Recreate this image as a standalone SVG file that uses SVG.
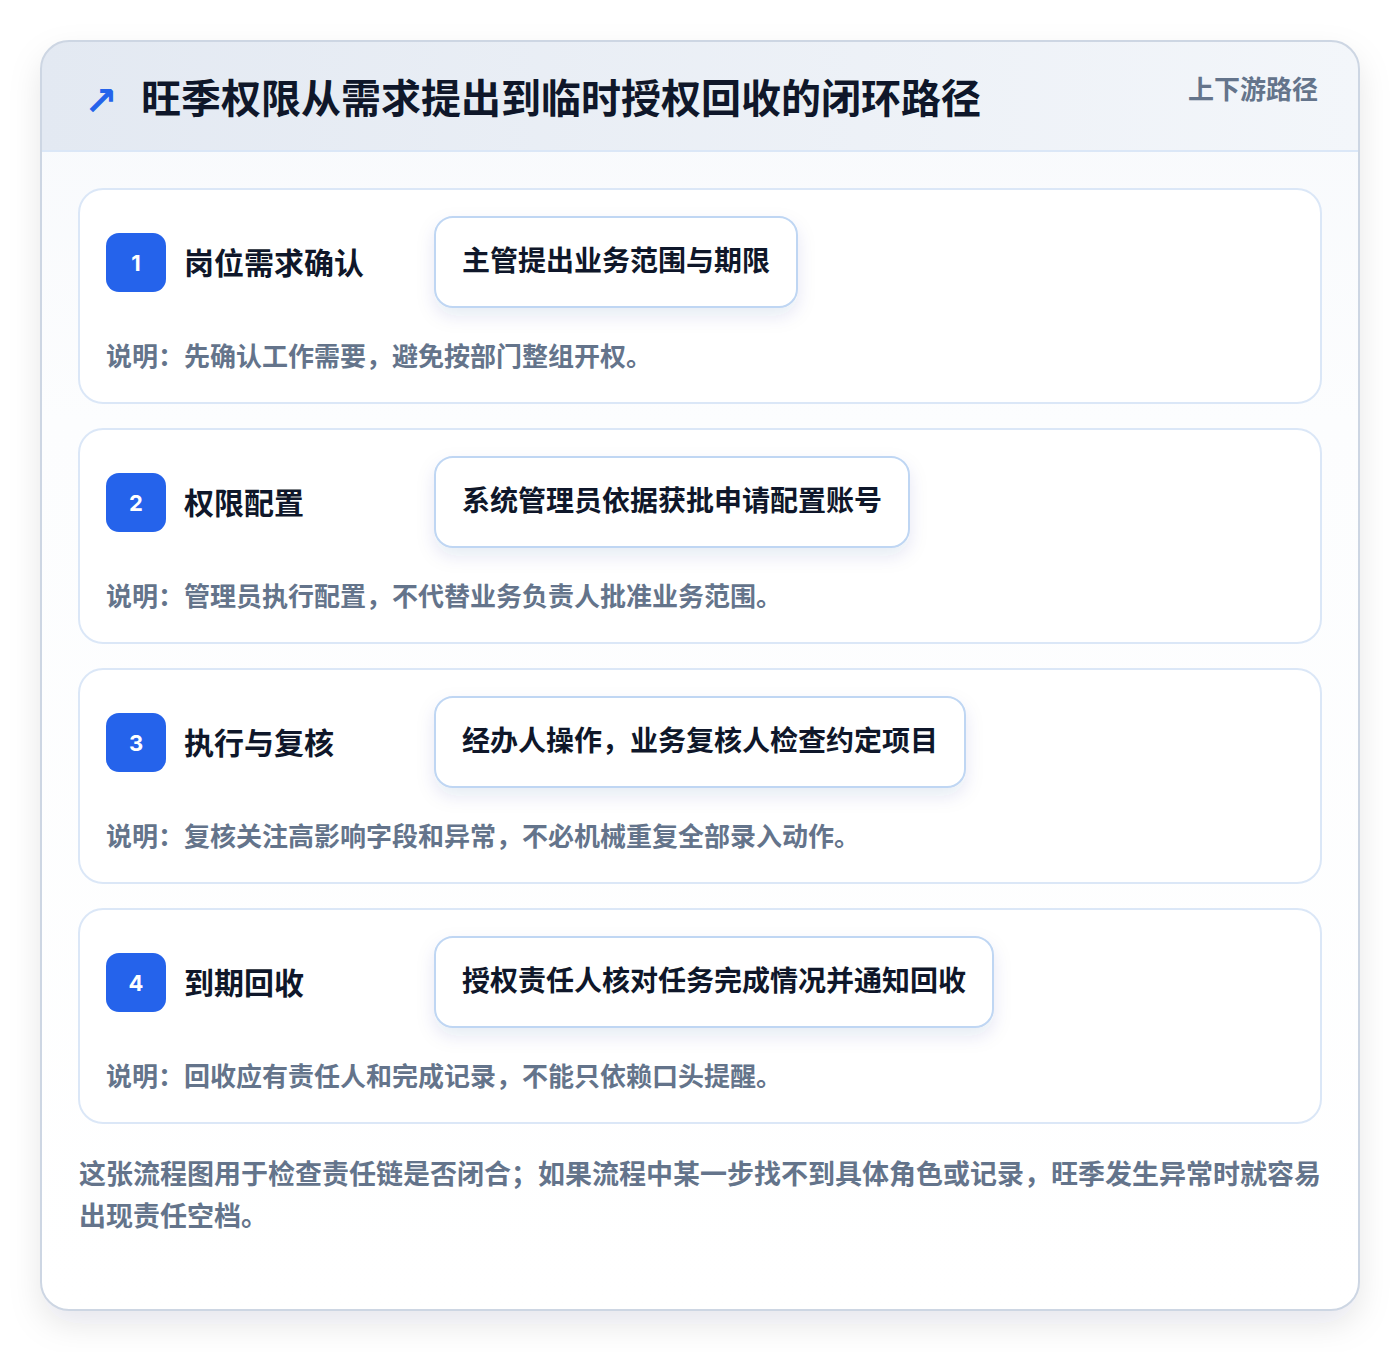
<svg xmlns="http://www.w3.org/2000/svg" width="1400" height="1352" viewBox="0 0 1400 1352">
<defs>
<linearGradient id="hdr" x1="0" y1="0" x2="1" y2="0">
<stop offset="0" stop-color="#e3e9f2"/>
<stop offset="1" stop-color="#f3f6fa"/>
</linearGradient>
<linearGradient id="body" x1="0" y1="0" x2="0" y2="1">
<stop offset="0" stop-color="#f7f9fc"/>
<stop offset="0.3" stop-color="#fcfdfe"/>
<stop offset="1" stop-color="#ffffff"/>
</linearGradient>
<filter id="outerShadow" x="-10%" y="-10%" width="120%" height="120%">
<feDropShadow dx="0" dy="14" stdDeviation="16" flood-color="#0f172a" flood-opacity="0.10"/>
</filter>
<filter id="pillShadow" x="-20%" y="-30%" width="140%" height="180%">
<feDropShadow dx="0" dy="8" stdDeviation="9" flood-color="#1e3a8a" flood-opacity="0.10"/>
</filter>
<clipPath id="outerClip"><rect x="41" y="41" width="1318" height="1269" rx="28"/></clipPath>
</defs>
<style>
text{font-family:"Noto Sans CJK SC","Noto Sans",sans-serif;font-weight:700}
.card{fill:#ffffff;stroke:#dbe7f7;stroke-width:2}
.badge{fill:#2563eb}
.num{fill:#ffffff;font-family:"Inter","Noto Sans",sans-serif;font-size:22px;text-anchor:middle}
.title{fill:#0f172a;font-size:30px}
.pill{fill:#ffffff;stroke:#bfd6f3;stroke-width:2}
.pilltxt{fill:#0f172a;font-size:28px}
.desc{fill:#64748b;font-size:26px}
.foot{fill:#64748b;font-size:27px}
</style>
<rect x="0" y="0" width="1400" height="1352" fill="#ffffff"/>
<g id="frame">
<rect x="41" y="41" width="1318" height="1269" rx="28" fill="url(#body)" filter="url(#outerShadow)"/>
<g clip-path="url(#outerClip)">
<rect x="41" y="41" width="1318" height="110" fill="url(#hdr)"/>
<line x1="41" y1="151" x2="1359" y2="151" stroke="#dbe7f7" stroke-width="2"/>
</g>
<rect x="41" y="41" width="1318" height="1269" rx="28" fill="none" stroke="#cdd6e3" stroke-width="2"/>
</g>
<g id="header">
<text x="84" y="115" font-size="40" fill="#2563eb" style="font-family:'DejaVu Sans',sans-serif;font-weight:700">↗</text>
<text x="141" y="113" fill="#0f172a" font-size="40">旺季权限从需求提出到临时授权回收的闭环路径</text>
<text x="1318" y="99" fill="#64748b" font-size="26" text-anchor="end">上下游路径</text>
</g>
<g id="connectors"></g>
<g id="step1">
<rect class="card" x="79" y="189" width="1242" height="214" rx="24"/>
<rect class="badge" x="106" y="233" width="60" height="59" rx="13"/>
<text class="num" x="136" y="271">1</text>
<text class="title" x="184" y="274">岗位需求确认</text>
<rect class="pill" x="435" y="217" width="362" height="90" rx="18" filter="url(#pillShadow)"/>
<text class="pilltxt" x="462" y="271">主管提出业务范围与期限</text>
<text class="desc" x="106" y="366">说明：先确认工作需要，避免按部门整组开权。</text>
</g>
<g id="step2">
<rect class="card" x="79" y="429" width="1242" height="214" rx="24"/>
<rect class="badge" x="106" y="473" width="60" height="59" rx="13"/>
<text class="num" x="136" y="511">2</text>
<text class="title" x="184" y="514">权限配置</text>
<rect class="pill" x="435" y="457" width="474" height="90" rx="18" filter="url(#pillShadow)"/>
<text class="pilltxt" x="462" y="511">系统管理员依据获批申请配置账号</text>
<text class="desc" x="106" y="606">说明：管理员执行配置，不代替业务负责人批准业务范围。</text>
</g>
<g id="step3">
<rect class="card" x="79" y="669" width="1242" height="214" rx="24"/>
<rect class="badge" x="106" y="713" width="60" height="59" rx="13"/>
<text class="num" x="136" y="751">3</text>
<text class="title" x="184" y="754">执行与复核</text>
<rect class="pill" x="435" y="697" width="530" height="90" rx="18" filter="url(#pillShadow)"/>
<text class="pilltxt" x="462" y="751">经办人操作，业务复核人检查约定项目</text>
<text class="desc" x="106" y="846">说明：复核关注高影响字段和异常，不必机械重复全部录入动作。</text>
</g>
<g id="step4">
<rect class="card" x="79" y="909" width="1242" height="214" rx="24"/>
<rect class="badge" x="106" y="953" width="60" height="59" rx="13"/>
<text class="num" x="136" y="991">4</text>
<text class="title" x="184" y="994">到期回收</text>
<rect class="pill" x="435" y="937" width="558" height="90" rx="18" filter="url(#pillShadow)"/>
<text class="pilltxt" x="462" y="991">授权责任人核对任务完成情况并通知回收</text>
<text class="desc" x="106" y="1086">说明：回收应有责任人和完成记录，不能只依赖口头提醒。</text>
</g>
<g id="footer">
<text class="foot" x="79" y="1184">这张流程图用于检查责任链是否闭合；如果流程中某一步找不到具体角色或记录，旺季发生异常时就容易</text>
<text class="foot" x="79" y="1226">出现责任空档。</text>
</g>
</svg>
